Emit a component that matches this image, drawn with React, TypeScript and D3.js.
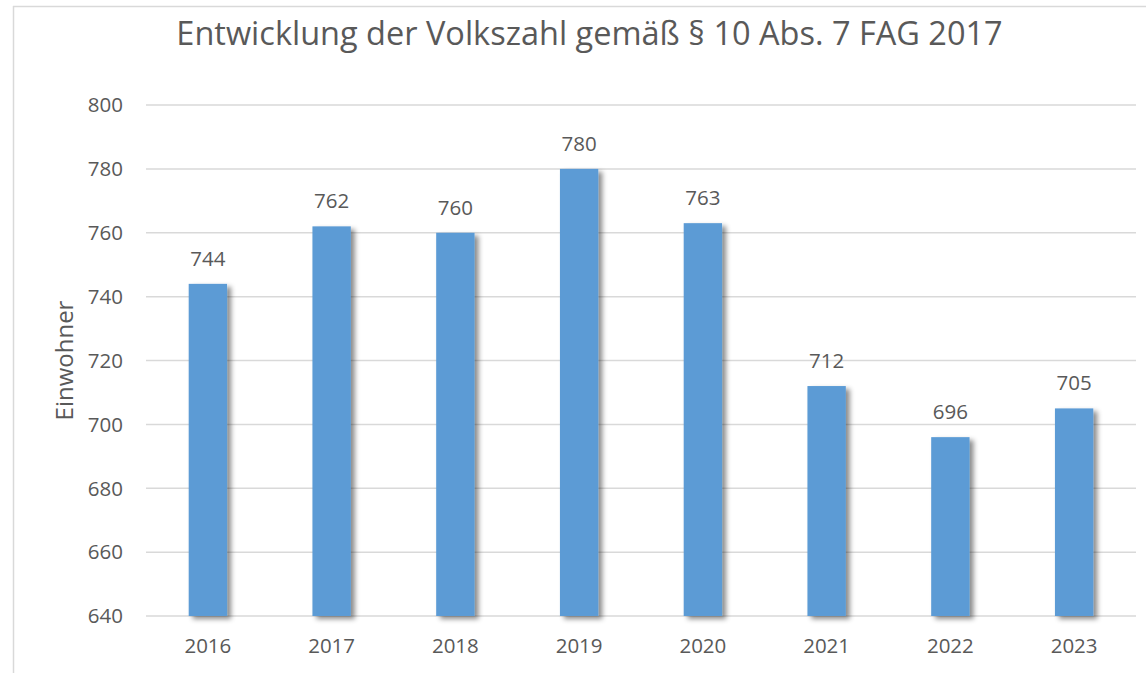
import React from "react";
import * as d3 from "d3";

const categories = ["2016", "2017", "2018", "2019", "2020", "2021", "2022", "2023"];
const values = [744, 762, 760, 780, 763, 712, 696, 705];
const yTicks = [640, 660, 680, 700, 720, 740, 760, 780, 800];
const title = "Entwicklung der Volkszahl gemäß § 10 Abs. 7 FAG 2017";
const yLabel = "Einwohner";

const W = 1146;
const H = 673;
const left = 146;
const right = 1136;
const top = 105;
const bottom = 616;
const font = "'Open Sans', sans-serif";
const textColor = "#595959";
const fs = 20.5;

export default function App() {
  const x = d3.scaleBand<string>().domain(categories).range([left, right]).paddingInner(0.69).paddingOuter(0.345);
  const y = d3.scaleLinear().domain([640, 800]).range([bottom, top]);
  return (
    <svg width={W} height={H} style={{ position: "absolute", left: 0, top: 0, background: "#fff" }}>
      <defs>
        <filter id="sh" x="-50%" y="-50%" width="200%" height="200%">
          <feDropShadow dx="4" dy="3" stdDeviation="2.5" floodColor="#000" floodOpacity="0.45" />
        </filter>
      </defs>
      <rect x={0} y={0} width={W} height={H} fill="#fff" />
      <line x1={13.5} x2={13.5} y1={6} y2={H} stroke="#d9d9d9" strokeWidth={1.5} />
      <line x1={13} x2={W} y1={6.5} y2={6.5} stroke="#d9d9d9" strokeWidth={1.5} />
      <text x={589.5} y={45} textAnchor="middle" fontFamily={font} fontSize={32.5} fill={textColor}>{title}</text>
      {yTicks.map((t) => (
        <g key={t}>
          <line x1={left} x2={right} y1={y(t)} y2={y(t)} stroke="#d9d9d9" strokeWidth={1.5} />
          <text x={123} y={y(t) + 7.3} textAnchor="end" fontFamily={font} fontSize={fs} fill={textColor}>{t}</text>
        </g>
      ))}
      {categories.map((c, i) => (
        <rect key={c} x={x(c)} y={y(values[i])} width={x.bandwidth()} height={y(640) - y(values[i])} fill="#5B9BD5" filter="url(#sh)" />
      ))}
      {categories.map((c, i) => (
        <text key={c + "l"} x={x(c)! + x.bandwidth() / 2} y={y(values[i]) - 18} textAnchor="middle" fontFamily={font} fontSize={fs} fill={textColor}>{values[i]}</text>
      ))}
      {categories.map((c) => (
        <text key={c + "x"} x={x(c)! + x.bandwidth() / 2} y={653} textAnchor="middle" fontFamily={font} fontSize={fs} fill={textColor}>{c}</text>
      ))}
      <text transform={`translate(73,${(top + bottom) / 2}) rotate(-90)`} textAnchor="middle" fontFamily={font} fontSize={24} fill={textColor}>{yLabel}</text>
    </svg>
  );
}
